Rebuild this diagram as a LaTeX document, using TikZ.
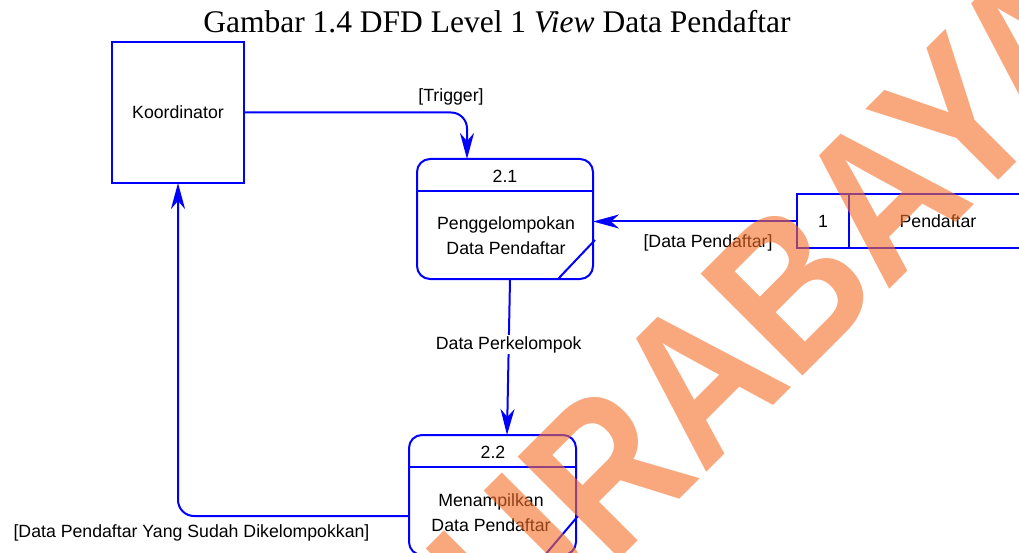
\documentclass[tikz,border=0pt]{standalone}
\usepackage{fontspec}
\setmainfont{Liberation Serif}
\newfontfamily\dfdsans{Liberation Sans}
\usetikzlibrary{arrows.meta}
\definecolor{dfdblue}{RGB}{0,0,255}
\definecolor{wmorange}{RGB}{245,110,40}

\begin{document}
\begin{tikzpicture}[x=1pt,y=-1pt,
  lbl/.style={font=\dfdsans\fontsize{17.7}{25}\selectfont, inner sep=1pt, align=center},
  entity/.style={draw=dfdblue, line width=2pt, inner sep=0pt, outer sep=0pt,
    minimum width=132pt, minimum height=141pt, lbl},
  process/.style={draw=dfdblue, line width=2pt, rounded corners=13pt,
    inner sep=0pt, outer sep=0pt},
  storeid/.style={draw=dfdblue, line width=2pt, inner sep=0pt, outer sep=0pt,
    minimum width=52pt, minimum height=54pt, lbl},
  edge line/.style={draw=dfdblue, line width=2pt},
  flow/.style={draw=dfdblue, line width=2pt,
    -{Stealth[length=26pt,width=14pt,inset=8pt]}},
  watermark/.style={font=\dfdsans\bfseries\fontsize{179}{179}\selectfont,
    text=wmorange, text opacity=0.6, inner sep=0pt}
]
\useasboundingbox (0,0) rectangle (1019,553);

% title
\node[anchor=base, inner sep=0pt, font=\fontsize{31.5}{36}\selectfont] (title)
  at (497,33) {Gambar 1.4 DFD Level 1 \textit{View} Data Pendaftar};

% external entity
\node[entity] (koor) at (178,112.5) {Koordinator};

% process 2.1
\node[process, minimum width=176pt, minimum height=120pt] (p21) at (505,219) {};
\draw[edge line] ([yshift=-32.5pt]p21.north west) -- ([yshift=-32.5pt]p21.north east);
\draw[edge line] ([xshift=-35pt]p21.south east) -- ([xshift=2pt,yshift=39pt]p21.south east);
\node[lbl] (p21id) at (505,176) {2.1};
\node[lbl] (p21name) at (506,236) {Penggelompokan\\Data Pendaftar};

% process 2.2
\node[process, minimum width=167pt, minimum height=120pt] (p22) at (492.5,495) {};
\draw[edge line] ([yshift=-32pt]p22.north west) -- ([yshift=-32pt]p22.north east);
\draw[edge line] ([xshift=-31pt]p22.south east) -- ([xshift=2pt,yshift=39pt]p22.south east);
\node[lbl] (p22id) at (493,452) {2.2};
\node[lbl] (p22name) at (491,512.5) {Menampilkan\\Data Pendaftar};

% data store 1
\node[storeid] (sid) at (823,221.5) {1};
\coordinate (stne) at (1040,194.5);
\coordinate (stse) at (1040,248.5);
\draw[edge line] (sid.north east) -- (stne);
\draw[edge line] (sid.south east) -- (stse);
\node[lbl] (sname) at (938,221.5) {Pendaftar};

% data flows
\coordinate (trigin) at ([xshift=-38pt]p21.north);
\draw[flow, rounded corners=16pt] (koor.east) -| (trigin);
\node[lbl] (ltrig) at (451,97) {[Trigger]};

\draw[flow] (sid.west) -- (sid.west -| p21.east);
\node[lbl] (lstore) at (708,243) {[Data Pendaftar]};

\draw[flow] ([xshift=5pt]p21.south) --
  node[lbl, fill=white, pos=0.42] (lgroup) {Data Perkelompok}
  ([xshift=14.5pt]p22.north);

\draw[flow, rounded corners=16pt] ([yshift=-21pt]p22.west) -| (koor.south);
\node[lbl] (lresult) at (191.5,532.5) {[Data Pendaftar Yang Sudah Dikelompokkan]};

% watermark
\begin{scope}
  \clip (0,0) rectangle (1019,553);
  \node[watermark, rotate=45, anchor=base west] (wm) at (436,743)
    {\scalebox{1}[1.17]{SURABAYA}};
\end{scope}
\end{tikzpicture}
\end{document}
